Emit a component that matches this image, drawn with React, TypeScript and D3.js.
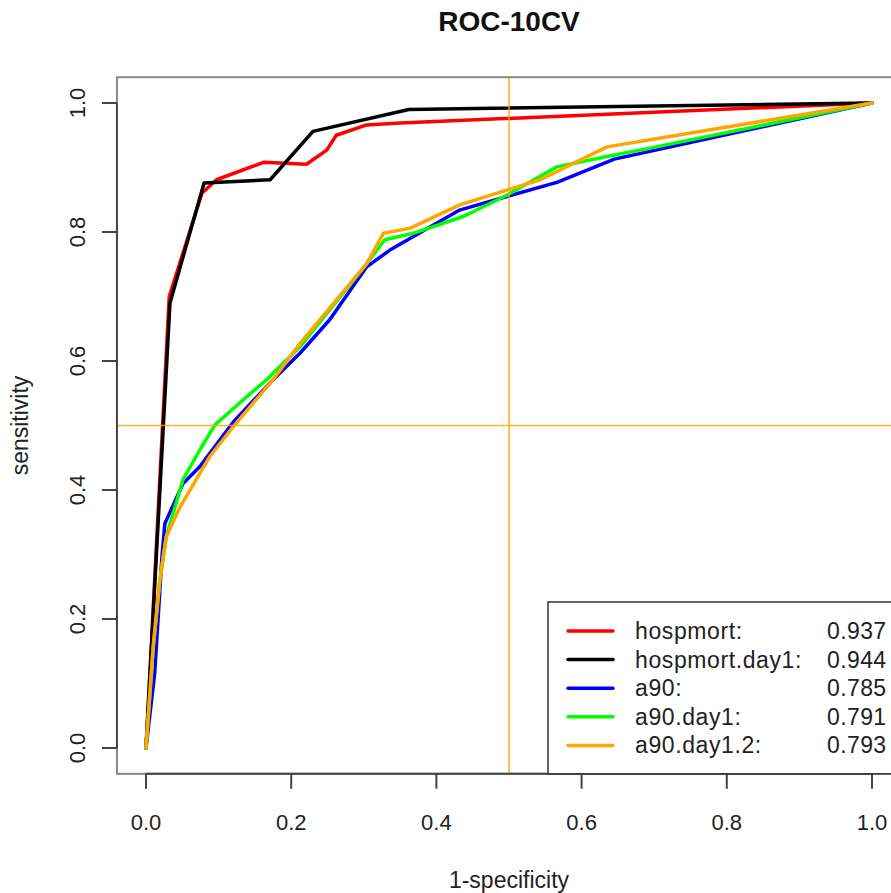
import React from "react";
import * as d3 from "d3";

const title = "ROC-10CV";
const xLabel = "1-specificity";
const yLabel = "sensitivity";
const tickValues = [0, 0.2, 0.4, 0.6, 0.8, 1.0];
const tickLabels = ["0.0", "0.2", "0.4", "0.6", "0.8", "1.0"];

const seriesNames = ["hospmort:", "hospmort.day1:", "a90:", "a90.day1:", "a90.day1.2:"];
const seriesAUC = ["0.937", "0.944", "0.785", "0.791", "0.793"];
const seriesColors = ["#FF0000", "#000000", "#0000FF", "#00FF00", "#FFA500"];

const hospmortX = [0, 0.032, 0.077, 0.097, 0.162, 0.221, 0.249, 0.262, 0.304, 0.35, 1];
const hospmortY = [0, 0.7, 0.86, 0.881, 0.908, 0.905, 0.927, 0.95, 0.966, 0.969, 1];

const hospmortDay1X = [0, 0.033, 0.08, 0.171, 0.23, 0.362, 1];
const hospmortDay1Y = [0, 0.69, 0.876, 0.881, 0.956, 0.99, 1];

const a90X = [0, 0.012, 0.022, 0.026, 0.051, 0.074, 0.12, 0.175, 0.212, 0.253, 0.304, 0.336, 0.432, 0.497, 0.566, 0.645, 1];
const a90Y = [0, 0.116, 0.297, 0.348, 0.41, 0.436, 0.505, 0.571, 0.612, 0.664, 0.746, 0.772, 0.834, 0.855, 0.877, 0.913, 1];

const a90Day1X = [0, 0.01, 0.019, 0.028, 0.051, 0.074, 0.095, 0.134, 0.166, 0.212, 0.302, 0.329, 0.368, 0.437, 0.497, 0.566, 0.635, 0.694, 1];
const a90Day1Y = [0, 0.157, 0.26, 0.328, 0.416, 0.462, 0.501, 0.54, 0.571, 0.622, 0.748, 0.788, 0.798, 0.824, 0.857, 0.901, 0.917, 0.93, 1];

const a90Day12X = [0, 0.01, 0.019, 0.028, 0.047, 0.088, 0.12, 0.175, 0.212, 0.304, 0.327, 0.364, 0.432, 0.497, 0.543, 0.635, 1];
const a90Day12Y = [0, 0.157, 0.26, 0.328, 0.374, 0.452, 0.498, 0.571, 0.627, 0.751, 0.798, 0.806, 0.842, 0.865, 0.881, 0.932, 1];

const refX = 0.5;
const refY = 0.5;

const W = 891;
const H = 893;
const FONT = "'Liberation Sans', Arial, Helvetica, sans-serif";

export default function App() {
  const x = d3.scaleLinear().domain([0, 1]).range([146, 872]);
  const y = d3.scaleLinear().domain([0, 1]).range([748, 103]);
  const [bx0, bx1] = [x(-0.04), x(1.04)];
  const [by0, by1] = [y(1.04), y(-0.04)];

  const series = [
    { xs: hospmortX, ys: hospmortY },
    { xs: hospmortDay1X, ys: hospmortDay1Y },
    { xs: a90X, ys: a90Y },
    { xs: a90Day1X, ys: a90Day1Y },
    { xs: a90Day12X, ys: a90Day12Y },
  ];
  const line = d3
    .line<[number, number]>()
    .x((d) => x(d[0]))
    .y((d) => y(d[1]));

  const textColor = "#222";
  const axisColor = "#444";
  const legX = 548;
  const legY = 602;
  const rowY = (i: number) => 631 + i * 28.6;

  return (
    <svg
      width={W}
      height={H}
      style={{ position: "absolute", left: 0, top: 0, background: "#fff" }}
      fontFamily={FONT}
    >
      <rect x={0} y={0} width={W} height={H} fill="#fff" />
      <text x={(bx0 + bx1) / 2} y={31} textAnchor="middle" fontSize={28} fontWeight="bold" fill="#111">
        {title}
      </text>

      {series.map((s, i) => (
        <path
          key={i}
          d={line(s.xs.map((v, j) => [v, s.ys[j]] as [number, number])) || ""}
          fill="none"
          stroke={seriesColors[i]}
          strokeWidth={3.5}
          strokeLinejoin="round"
          strokeLinecap="round"
        />
      ))}

      <line x1={x(refX)} x2={x(refX)} y1={by0} y2={by1} stroke="#FFA500" strokeWidth={1.6} opacity={0.85} />
      <line x1={bx0} x2={bx1} y1={y(refY)} y2={y(refY)} stroke="#FFA500" strokeWidth={1.6} opacity={0.85} />

      <rect x={bx0} y={by0} width={bx1 - bx0} height={by1 - by0} fill="none" stroke="#888" strokeWidth={2} />

      {/* x axis */}
      <line x1={x(0)} x2={x(1)} y1={by1} y2={by1} stroke={axisColor} strokeWidth={2} />
      {tickValues.map((t, i) => (
        <g key={"x" + i}>
          <line x1={x(t)} x2={x(t)} y1={by1} y2={by1 + 15} stroke={axisColor} strokeWidth={2} />
          <text x={x(t)} y={830} textAnchor="middle" fontSize={22} fill={textColor}>
            {tickLabels[i]}
          </text>
        </g>
      ))}
      {/* y axis */}
      <line x1={bx0} x2={bx0} y1={y(0)} y2={y(1)} stroke={axisColor} strokeWidth={2} />
      {tickValues.map((t, i) => (
        <g key={"y" + i}>
          <line x1={bx0} x2={bx0 - 15} y1={y(t)} y2={y(t)} stroke={axisColor} strokeWidth={2} />
          <text
            transform={`translate(85, ${y(t)}) rotate(-90)`}
            textAnchor="middle"
            fontSize={22}
            fill={textColor}
          >
            {tickLabels[i]}
          </text>
        </g>
      ))}

      <text x={(bx0 + bx1) / 2} y={888} textAnchor="middle" fontSize={23} fill={textColor}>
        {xLabel}
      </text>
      <text
        transform={`translate(28, ${(by0 + by1) / 2}) rotate(-90)`}
        textAnchor="middle"
        fontSize={23}
        fill={textColor}
      >
        {yLabel}
      </text>

      {/* legend */}
      <rect x={legX} y={legY} width={400} height={by1 - legY} fill="#fff" stroke="#333" strokeWidth={1.5} />
      {seriesNames.map((name, i) => (
        <g key={"l" + i}>
          <line x1={568} x2={613} y1={rowY(i)} y2={rowY(i)} stroke={seriesColors[i]} strokeWidth={3.5} strokeLinecap="round" />
          <text x={635} y={rowY(i) + 8} fontSize={23} fill={textColor} letterSpacing={0.6}>
            {name}
          </text>
          <text x={827} y={rowY(i) + 8} fontSize={23} fill={textColor} letterSpacing={0.4}>
            {seriesAUC[i]}
          </text>
        </g>
      ))}
    </svg>
  );
}
